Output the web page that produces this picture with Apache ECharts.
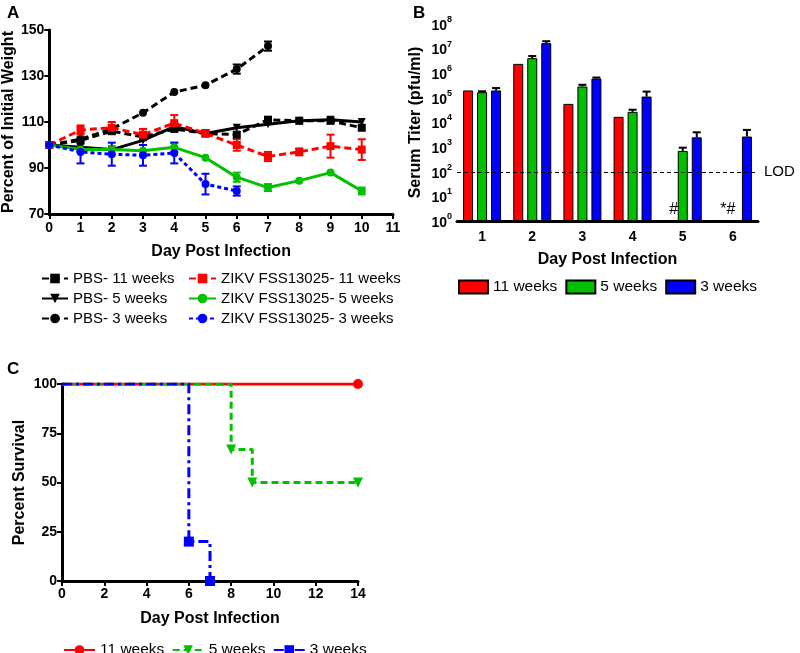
<!DOCTYPE html>
<html>
<head>
<meta charset="utf-8">
<script src="https://cdn.jsdelivr.net/npm/echarts@6/dist/echarts.min.js"></script>
<style>
  html, body { margin: 0; padding: 0; background: #fff; }
  #main { width: 800px; height: 653px; }
</style>
</head>
<body>
<div id="main"></div>
<script>
// panel A - weight curves
var daysA = [0, 1, 2, 3, 4, 5, 6, 7, 8, 9, 10];
var pbs11 = [100, 102, 106, 103.5, 107, 105, 104.5, 111, 110.5, 110.5, 107.5];
var pbs5 = [100, 99, 98, 102, 108, 105, 107.5, 109, 110.5, 111, 110];
var pbs3 = [100, 102.5, 107, 114, 123, 126, 133, 143];
var pbs3Err = [0, 0, 0, 0, 0, 0, 2, 2];
var zikv11 = [100, 106.5, 107.5, 104.5, 109.5, 105, 100, 95, 97, 99.5, 98];
var zikv11Err = [0, 2, 2.5, 2.5, 3.5, 0, 2.5, 2, 1.5, 5, 4.5];
var zikv5 = [100, 98, 98, 97.5, 99, 94.5, 86, 81.5, 84.5, 88, 80];
var zikv5Err = [0, 1, 0, 0, 2, 0, 2, 1.5, 0, 0, 1.5];
var zikv3 = [100, 97, 96, 95.5, 96.5, 83, 80];
var zikv3Err = [0, 5, 5, 4.5, 4.5, 4.5, 2];

// panel B - serum titers (pfu/ml)
var daysB = ['1', '2', '3', '4', '5', '6'];
var titer11 = [2.0e5, 2.4e6, 5.7e4, 1.7e4, null, null];
var titer5 = [1.7e5, 4.1e6, 2.9e5, 2.7e4, 7.0e2, null];
var titer5Up = [1.85e5, 5.0e6, 3.4e5, 3.3e4, 9.5e2, null];
var titer3 = [2.0e5, 1.67e7, 6.1e5, 1.13e5, 2.5e3, 2.7e3];
var titer3Up = [2.5e5, 2.0e7, 6.7e5, 1.8e5, 4.0e3, 5.0e3];
var lod = 100;

// panel C - survival
var surv11 = [[0, 100], [14, 100]];
var surv5 = [[0, 100], [8, 66.7], [9, 50], [14, 50]];
var surv3 = [[0, 100], [6, 20], [7, 0]];

var FONT = 'Liberation Sans, Arial, sans-serif';
var RED = '#ff0000', GREEN = '#00c000', BLUE = '#0000ff';

var chart = echarts.init(document.getElementById('main'));

function pts(xs, ys) {
  var out = [];
  for (var i = 0; i < ys.length; i++) out.push([xs[i], ys[i]]);
  return out;
}

// error bars (symmetric) for panel A
function errBars(vals, errs, color) {
  var data = [];
  for (var i = 0; i < vals.length; i++) {
    if (errs[i] > 0) data.push([daysA[i], vals[i] - errs[i], vals[i] + errs[i]]);
  }
  return {
    type: 'custom', xAxisIndex: 0, yAxisIndex: 0, z: 3,
    data: data,
    encode: { x: 0, y: [1, 2] },
    renderItem: function(params, api) {
      var lo = api.coord([api.value(0), api.value(1)]);
      var hi = api.coord([api.value(0), api.value(2)]);
      var w = 4;
      var st = { stroke: color, lineWidth: 2 };
      return { type: 'group', children: [
        { type: 'line', shape: { x1: lo[0], y1: lo[1], x2: hi[0], y2: hi[1] }, style: st },
        { type: 'line', shape: { x1: lo[0] - w, y1: lo[1], x2: lo[0] + w, y2: lo[1] }, style: st },
        { type: 'line', shape: { x1: hi[0] - w, y1: hi[1], x2: hi[0] + w, y2: hi[1] }, style: st }
      ]};
    }
  };
}

// upper error bars for panel B bars
function upBars(vals, ups, offset) {
  var data = [];
  for (var i = 0; i < vals.length; i++) {
    if (vals[i] != null && ups[i] != null) data.push([i, vals[i], ups[i]]);
  }
  return {
    type: 'custom', xAxisIndex: 1, yAxisIndex: 1, z: 3,
    data: data,
    encode: { x: 0, y: [1, 2] },
    renderItem: function(params, api) {
      var lo = api.coord([api.value(0), api.value(1)]);
      var hi = api.coord([api.value(0), api.value(2)]);
      var x = lo[0] + offset;
      var st = { stroke: '#000', lineWidth: 2 };
      return { type: 'group', children: [
        { type: 'line', shape: { x1: x, y1: lo[1], x2: x, y2: hi[1] }, style: st },
        { type: 'line', shape: { x1: x - 4, y1: hi[1], x2: x + 4, y2: hi[1] }, style: st }
      ]};
    }
  };
}

function lineSeries(name, data, color, dash, symbol, rotate) {
  return {
    name: name, type: 'line', xAxisIndex: 0, yAxisIndex: 0,
    data: data, symbol: symbol, symbolSize: 8, symbolRotate: rotate || 0,
    color: color,
    lineStyle: { color: color, width: 3, type: dash },
    itemStyle: { color: color },
    z: 4
  };
}

var axisLine = { lineStyle: { color: '#000', width: 3 } };
var axisTick = { length: 5, lineStyle: { color: '#000', width: 2 } };
var tickFont = { color: '#000', fontWeight: 'bold', fontSize: 14, fontFamily: FONT };
var nameFont = { color: '#000', fontWeight: 'bold', fontSize: 16, fontFamily: FONT };
var legendFont = { color: '#000', fontSize: 15, fontFamily: FONT };
var panelFont = { color: '#000', fontSize: 17, fontWeight: 'bold', fontFamily: FONT };
var markFont = { color: '#000', fontSize: 16, fontFamily: FONT };

var option = {
  backgroundColor: '#fff',
  animation: false,
  title: [
    { text: 'A', left: 2, top: 0, textStyle: panelFont },
    { text: 'B', left: 408, top: 0, textStyle: panelFont },
    { text: 'C', left: 2, top: 356, textStyle: panelFont }
  ],
  grid: [
    { left: 49, top: 30, width: 344, height: 184 },
    { left: 457, top: 24, width: 301, height: 197 },
    { left: 62, top: 384, width: 296, height: 197 }
  ],
  legend: [
    { data: ['PBS- 11 weeks', 'PBS- 5 weeks', 'PBS- 3 weeks'], orient: 'vertical', left: 36, top: 266,
      itemWidth: 26, itemHeight: 12, itemGap: 5, textStyle: legendFont },
    { data: ['ZIKV FSS13025- 11 weeks', 'ZIKV FSS13025- 5 weeks', 'ZIKV FSS13025- 3 weeks'], orient: 'vertical', left: 183, top: 266,
      itemWidth: 27, itemHeight: 12, itemGap: 5, textStyle: legendFont },
    { data: ['11 weeks', '5 weeks', '3 weeks'], left: 453, top: 274, itemWidth: 29, itemHeight: 13, itemGap: 8,
      textStyle: { color: '#000', fontSize: 15.5, fontFamily: FONT }, icon: 'rect' },
    { data: ['11 weeks ', '5 weeks ', '3 weeks '], left: 58, top: 637, itemWidth: 31, itemHeight: 12, itemGap: 3,
      textStyle: { color: '#000', fontSize: 15.5, fontFamily: FONT } }
  ],
  xAxis: [
    { gridIndex: 0, type: 'value', min: 0, max: 11, interval: 1,
      name: 'Day Post Infection', nameLocation: 'middle', nameGap: 30, nameTextStyle: nameFont,
      axisLine: axisLine, axisTick: axisTick, axisLabel: Object.assign({ margin: 7 }, tickFont), splitLine: { show: false } },
    { gridIndex: 1, type: 'category', data: daysB,
      name: 'Day Post Infection', nameLocation: 'middle', nameGap: 31, nameTextStyle: nameFont,
      axisLine: axisLine, axisTick: Object.assign({ alignWithLabel: true }, axisTick),
      axisLabel: Object.assign({ margin: 9 }, tickFont) },
    { gridIndex: 2, type: 'value', min: 0, max: 14, interval: 2,
      name: 'Day Post Infection', nameLocation: 'middle', nameGap: 30, nameTextStyle: nameFont,
      axisLine: axisLine, axisTick: axisTick, axisLabel: Object.assign({ margin: 6 }, tickFont), splitLine: { show: false } }
  ],
  yAxis: [
    { gridIndex: 0, type: 'value', min: 70, max: 150, interval: 20,
      name: 'Percent of Initial Weight', nameLocation: 'middle', nameGap: 31, nameTextStyle: nameFont,
      axisLine: axisLine, axisTick: axisTick, axisLabel: Object.assign({ margin: 5 }, tickFont), splitLine: { show: false } },
    { gridIndex: 1, type: 'log', logBase: 10, min: 1, max: 1e8,
      name: 'Serum Titer (pfu/ml)', nameLocation: 'middle', nameGap: 33, nameTextStyle: nameFont,
      axisLine: axisLine, axisTick: axisTick, splitLine: { show: false }, minorTick: { show: false },
      axisLabel: {
        margin: 5,
        formatter: function(v) { return '{b|10}{s|' + Math.round(Math.log10(v)) + '}'; },
        rich: {
          b: { color: '#000', fontWeight: 'bold', fontSize: 14, fontFamily: FONT, lineHeight: 18, verticalAlign: 'bottom' },
          s: { color: '#000', fontWeight: 'bold', fontSize: 9, fontFamily: FONT, lineHeight: 18, verticalAlign: 'top', padding: [0, 0, 6, 0] }
        }
      } },
    { gridIndex: 2, type: 'value', min: 0, max: 100, interval: 25,
      name: 'Percent Survival', nameLocation: 'middle', nameGap: 34, nameTextStyle: nameFont,
      axisLine: axisLine, axisTick: axisTick, axisLabel: Object.assign({ margin: 5 }, tickFont), splitLine: { show: false } }
  ],
  series: [
    // panel A
    lineSeries('PBS- 11 weeks', pts(daysA, pbs11), '#000', [7, 4], 'rect'),
    lineSeries('PBS- 5 weeks', pts(daysA, pbs5), '#000', 'solid', 'triangle', 180),
    lineSeries('PBS- 3 weeks', pts(daysA, pbs3), '#000', [7, 4], 'circle'),
    lineSeries('ZIKV FSS13025- 11 weeks', pts(daysA, zikv11), RED, [7, 4], 'rect'),
    lineSeries('ZIKV FSS13025- 5 weeks', pts(daysA, zikv5), GREEN, 'solid', 'circle'),
    lineSeries('ZIKV FSS13025- 3 weeks', pts(daysA, zikv3), BLUE, [4, 3], 'circle'),
    errBars(pbs3, pbs3Err, '#000'),
    errBars(zikv11, zikv11Err, RED),
    errBars(zikv5, zikv5Err, GREEN),
    errBars(zikv3, zikv3Err, BLUE),
    // panel B
    { name: '11 weeks', type: 'bar', xAxisIndex: 1, yAxisIndex: 1, data: titer11, barWidth: 10, barGap: '40%',
      itemStyle: { color: RED, borderColor: '#000', borderWidth: 1 },
      markLine: { silent: true, symbol: 'none', data: [{ yAxis: lod }],
        lineStyle: { color: '#000', type: [4, 3], width: 1 },
        label: { position: 'end', formatter: 'LOD', color: '#000', fontSize: 15, fontFamily: FONT, distance: 6 } },
      markPoint: { symbol: 'rect', symbolSize: 1, itemStyle: { color: 'rgba(0,0,0,0)' },
        label: Object.assign({ position: 'inside' }, markFont),
        data: [
          { coord: [4, 1], value: '#', label: Object.assign({ formatter: '#', offset: [5, -11] }, markFont) },
          { coord: [5, 1], value: '*#', label: Object.assign({ formatter: '*#', offset: [9, -11] }, markFont) }
        ] } },
    { name: '5 weeks', type: 'bar', xAxisIndex: 1, yAxisIndex: 1, data: titer5, barWidth: 10, barGap: '40%',
      itemStyle: { color: GREEN, borderColor: '#000', borderWidth: 1 } },
    { name: '3 weeks', type: 'bar', xAxisIndex: 1, yAxisIndex: 1, data: titer3, barWidth: 10, barGap: '40%',
      itemStyle: { color: BLUE, borderColor: '#000', borderWidth: 1 } },
    upBars(titer5, titer5Up, 0),
    upBars(titer3, titer3Up, 14),
    // panel C
    { name: '11 weeks ', type: 'line', xAxisIndex: 2, yAxisIndex: 2, step: 'end', color: RED,
      data: [{ value: surv11[0], symbol: 'none' }, { value: surv11[1] }],
      symbol: 'circle', symbolSize: 10, lineStyle: { color: RED, width: 3 }, itemStyle: { color: RED } },
    { name: '5 weeks ', type: 'line', xAxisIndex: 2, yAxisIndex: 2, step: 'end', color: GREEN,
      data: surv5.map(function(p, i) { return i === 0 ? { value: p, symbol: 'none' } : { value: p }; }),
      symbol: 'triangle', symbolRotate: 180, symbolSize: 10, lineStyle: { color: GREEN, width: 3, type: [7, 4] }, itemStyle: { color: GREEN } },
    { name: '3 weeks ', type: 'line', xAxisIndex: 2, yAxisIndex: 2, step: 'end', color: BLUE,
      data: surv3.map(function(p, i) { return i === 0 ? { value: p, symbol: 'none' } : { value: p }; }),
      symbol: 'rect', symbolSize: 10, lineStyle: { color: BLUE, width: 3, type: [10, 4, 3, 4] }, itemStyle: { color: BLUE } }
  ]
};

chart.setOption(option);
</script>
</body>
</html>
